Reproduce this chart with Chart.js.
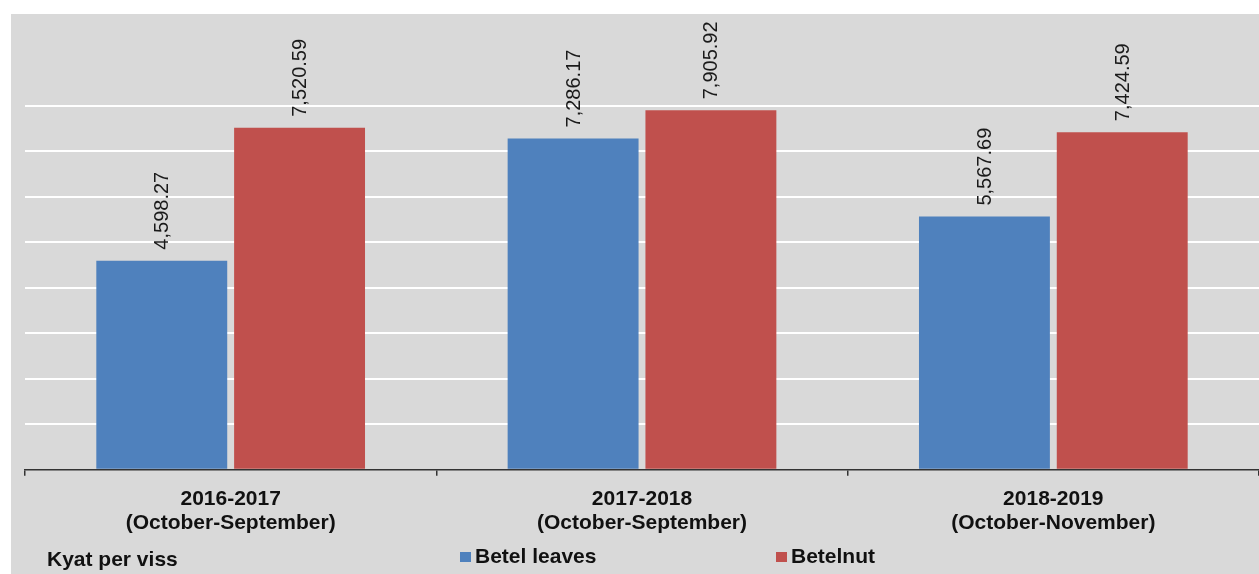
<!DOCTYPE html>
<html lang="en">
<head>
  <meta charset="UTF-8">
  <title>Betel leaves and Betelnut prices</title>
  <style>
    html, body { margin: 0; padding: 0; background: #fff; }
    #wrap { position: relative; width: 1259px; height: 574px; }
  </style>
</head>
<body>
  <div id="wrap"><canvas id="myChart" width="1259" height="574"></canvas></div>

  <script src="https://cdn.jsdelivr.net/npm/chart.js"></script>
  <script>
    const periods = [
      ['2016-2017', '(October-September)'],
      ['2017-2018', '(October-September)'],
      ['2018-2019', '(October-November)']
    ];
    const betelLeaves = [4598.27, 7286.17, 5567.69];
    const betelnut = [7520.59, 7905.92, 7424.59];
    const unitLabel = 'Kyat per viss';

    const FONT = '"Liberation Sans", Arial, sans-serif';

    // gray panel behind the chart, starts a little in from the top-left
    const panelBg = {
      id: 'panelBg',
      beforeDraw(chart) {
        const ctx = chart.ctx;
        ctx.save();
        ctx.fillStyle = '#d9d9d9';
        ctx.fillRect(11, 14, chart.width - 11, chart.height - 14);
        ctx.restore();
      }
    };

    // rotated value labels above bars
    const valueLabels = {
      id: 'valueLabels',
      afterDatasetsDraw(chart) {
        const ctx = chart.ctx;
        ctx.save();
        ctx.font = '20px ' + FONT;
        ctx.fillStyle = '#1a1a1a';
        ctx.textAlign = 'left';
        ctx.textBaseline = 'middle';
        chart.data.datasets.forEach((ds, i) => {
          chart.getDatasetMeta(i).data.forEach((bar, j) => {
            const txt = ds.data[j].toLocaleString('en-US', { minimumFractionDigits: 2, maximumFractionDigits: 2 });
            ctx.save();
            ctx.translate(bar.x + 1, bar.y - 11);
            ctx.rotate(-Math.PI / 2);
            ctx.fillText(txt, 0, 0);
            ctx.restore();
          });
        });
        ctx.restore();
      }
    };

    // legend row at the bottom plus the unit note
    const bottomLegend = {
      id: 'bottomLegend',
      afterDraw(chart) {
        const ctx = chart.ctx;
        const y = 557;
        const xs = [460, 776];
        ctx.save();
        ctx.font = 'bold 21px ' + FONT;
        ctx.fillStyle = '#111';
        ctx.textBaseline = 'middle';
        ctx.fillText(unitLabel, 47, y + 3);
        chart.data.datasets.forEach((ds, i) => {
          ctx.fillStyle = ds.backgroundColor;
          ctx.fillRect(xs[i], y - 5, 11, 10);
          ctx.fillStyle = '#111';
          ctx.fillText(ds.label, xs[i] + 15, y);
        });
        ctx.restore();
      }
    };

    const ctx = document.getElementById('myChart').getContext('2d');
    new Chart(ctx, {
      type: 'bar',
      data: {
        labels: periods,
        datasets: [
          { label: 'Betel leaves', data: betelLeaves, backgroundColor: '#4f81bd' },
          { label: 'Betelnut', data: betelnut, backgroundColor: '#c0504d' }
        ]
      },
      options: {
        responsive: false,
        animation: false,
        layout: { padding: { left: 25, right: 0, top: 106, bottom: 28 } },
        datasets: { bar: { categoryPercentage: 0.67, barPercentage: 0.95 } },
        plugins: {
          legend: { display: false },
          tooltip: { enabled: false }
        },
        scales: {
          x: {
            grid: {
              offset: true,
              drawOnChartArea: false,
              drawTicks: true,
              tickLength: 6,
              color: '#333',
              lineWidth: 1.5
            },
            border: { display: true, color: '#333', width: 1.5 },
            ticks: {
              color: '#111',
              padding: 11,
              font: { family: FONT, size: 21, weight: 'bold', lineHeight: 1.15 }
            }
          },
          y: {
            min: 0,
            max: 8000,
            ticks: { display: false, stepSize: 1000 },
            border: { display: false },
            grid: {
              drawTicks: false,
              lineWidth: 2,
              color: c => (c.tick && c.tick.value === 0) ? 'rgba(0,0,0,0)' : '#ffffff'
            }
          }
        }
      },
      plugins: [panelBg, valueLabels, bottomLegend]
    });
  </script>
</body>
</html>
